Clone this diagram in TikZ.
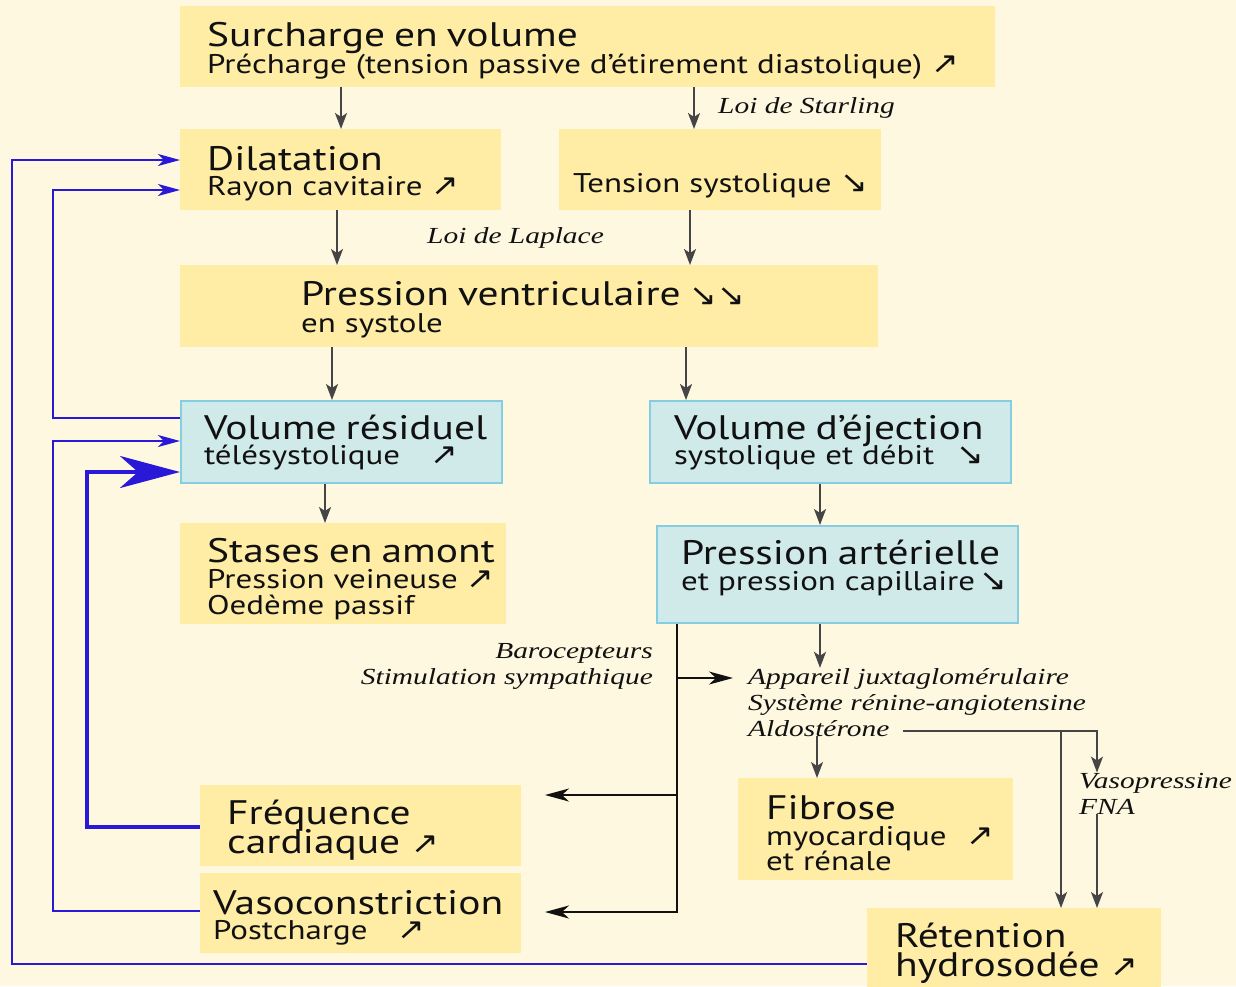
\documentclass[tikz,border=0pt]{standalone}
\usepackage{fontspec}
\setmainfont{PT Sans}[FakeStretch=1.22]
\newfontfamily\symfont{DejaVu Sans}[FakeStretch=1.1]
\newfontfamily\notefont{Liberation Serif}[FakeStretch=1.28]
\usetikzlibrary{arrows.meta,positioning,calc}
\definecolor{paper}{HTML}{FFF8E1}
\definecolor{boxyellow}{HTML}{FFEDA6}
\definecolor{boxblue}{HTML}{D0EAEA}
\definecolor{boxedge}{HTML}{85CDE2}
\definecolor{ink}{HTML}{111111}
\definecolor{arrowgray}{HTML}{454545}
\definecolor{loopblue}{HTML}{2A18D8}
\newcommand{\bigsz}{\fontsize{34}{36}\selectfont}
\newcommand{\hausse}{{\symfont\fontsize{30}{30}\selectfont ↗}}
\newcommand{\baisse}{{\symfont\fontsize{30}{30}\selectfont ↘}}
\tikzset{
    every picture/.style={line join=miter},
    ybox/.style={rectangle,fill=boxyellow,inner sep=0pt,anchor=north west,
      align=left,text=ink,font=\fontsize{27}{26}\selectfont},
    bbox/.style={ybox,fill=boxblue,draw=boxedge,line width=2.2pt},
    indent/.style={execute at begin node={\leftskip=#1pt\lineskiplimit=-40pt}},
    note/.style={inner sep=0pt,align=left,text=ink,
      font=\notefont\itshape\fontsize{23}{26}\selectfont},
    grayarrow/.style={-{Stealth[length=16pt,width=12pt,inset=4pt]},draw=arrowgray,
      line width=2pt},
    blackarrow/.style={-{Stealth[length=24pt,width=13pt,inset=7pt]},draw=ink,
      line width=1.6pt},
    bluearrow/.style={-{Stealth[length=22pt,width=12pt,inset=6pt]},draw=loopblue,
      line width=1.3pt},
    thickblue/.style={-{Stealth[length=60pt,width=32pt,inset=18pt]},draw=loopblue,
      line width=4.5pt}
}
\begin{document}
\begin{tikzpicture}[x=1pt,y=-1pt]
    \useasboundingbox (0,0) rectangle (1236,986);
    \fill[paper] (0,0) rectangle (1236,986);
    % boxes
    \node[ybox,text width=815pt,minimum height=81pt,indent=27,text height=33pt,
      font=\fontsize{27}{27}\selectfont]
      (surcharge) at (180,6) {{\bigsz Surcharge en volume}\\Précharge (tension passive d’étirement diastolique) \hausse};
    \node[ybox,text width=321pt,minimum height=81pt,indent=27,text height=33pt,
      font=\fontsize{27}{25}\selectfont]
      (dilatation) at (180,129) {{\bigsz Dilatation}\\Rayon cavitaire \hausse};
    \node[ybox,text width=322pt,minimum height=81pt,indent=14]
      (tension) at (559,129) {{\bigsz\strut}\\Tension systolique \baisse};
    \node[ybox,text width=698pt,minimum height=82pt,indent=121,text height=32pt,
      font=\fontsize{27}{27}\selectfont]
      (pv) at (180,265) {{\bigsz Pression ventriculaire} \baisse\baisse\\en systole};
    \node[bbox,text width=321pt,minimum height=82pt,indent=23,font=\fontsize{27}{25}\selectfont]
      (vr) at (180,400) {{\bigsz Volume résiduel}\\télésystolique\hspace{30pt}\hausse};
    \node[bbox,text width=361pt,minimum height=82pt,indent=24,font=\fontsize{27}{25}\selectfont]
      (ve) at (649,400) {{\bigsz Volume d’éjection}\\systolique et débit\hspace{22pt}\baisse};
    \node[ybox,text width=326pt,minimum height=101pt,indent=27,text height=34pt]
      (stases) at (180,523) {{\bigsz Stases en amont}\\Pression veineuse \hausse\\Oedème passif};
    \node[bbox,text width=361pt,minimum height=97pt,indent=24]
      (pa) at (656,525) {{\bigsz Pression artérielle}\\et pression capillaire\,\baisse\\[-8pt]\mbox{}};
    \node[ybox,text width=321pt,minimum height=81pt,indent=27,text height=34pt,
      font=\fontsize{34}{29}\selectfont]
      (freq) at (200,785) {Fréquence\\cardiaque \hausse};
    \node[ybox,text width=321pt,minimum height=80pt,indent=13,text height=33pt,
      font=\fontsize{27}{25}\selectfont]
      (vaso) at (200,873) {{\bigsz Vasoconstriction}\\Postcharge\hspace{30pt}\hausse};
    \node[ybox,text width=275pt,minimum height=102pt,indent=28,text height=32pt,
      font=\fontsize{27}{25.5}\selectfont]
      (fibrose) at (738,778) {{\bigsz Fibrose}\\myocardique\hspace{20pt}\hausse\\et rénale};
    \node[ybox,text width=294pt,minimum height=90pt,indent=28,font=\fontsize{34}{29}\selectfont]
      (retention) at (867,908) {Rétention\\hydrosodée \hausse};
    % italic notes (base = last line)
    \node[note,anchor=base west] (starling) at (718,113) {Loi de Starling};
    \node[note,anchor=base west] (laplace) at (427,243) {Loi de Laplace};
    \node[note,anchor=base east,align=right] (baro) at (653,684) {Barocepteurs\\Stimulation sympathique};
    \node[note,anchor=base west] (raas) at (748,736)
      {Appareil juxtaglomérulaire\\Système rénine-angiotensine\\Aldostérone};
    \node[note,anchor=base west] (vp) at (1079,814) {Vasopressine\\FNA};
    % main chain
    \foreach \a/\b/\x in {surcharge/dilatation/341,surcharge/tension/694,dilatation/pv/337,
      tension/pv/690,pv/vr/332,pv/ve/686,vr/stases/325,ve/pa/820,pa/raas/820,raas/fibrose/817}
        \draw[grayarrow] (\a.south -| \x,0) -- (\b.north -| \x,0);
    % sympathetic branch
    \coordinate (sympa) at (677,678);
    \coordinate (fcin) at (545,795);
    \coordinate (vcin) at (545,912);
    \draw[blackarrow] (pa.south -| sympa) |- (vcin);
    \draw[blackarrow] (fcin -| sympa) -- (fcin);
    \draw[blackarrow,shorten >=15pt] (sympa) -- (raas.west |- sympa);
    % aldosterone
    \coordinate (aldo) at (903,731);
    \draw[grayarrow,line width=1.5pt] (aldo) -| (vp.north -| 1097,0);
    \draw[grayarrow] (aldo -| 1061,0) -- (retention.north -| 1061,0);
    \draw[grayarrow] (vp.south -| 1097,0) -- (retention.north -| 1097,0);
    % feedback loops
    \draw[bluearrow] (retention.west |- 0,964) -| (12,160) -- (dilatation.west |- 0,160);
    \draw[bluearrow] (vr.west |- 0,418) -| (53,190) -- (dilatation.west |- 0,190);
    \draw[bluearrow] (vaso.west |- 0,911) -| (53,441) -- (vr.west |- 0,441);
    \draw[thickblue] (freq.west |- 0,827) -| (87,472) -- (vr.west |- 0,472);
\end{tikzpicture}
\end{document}
